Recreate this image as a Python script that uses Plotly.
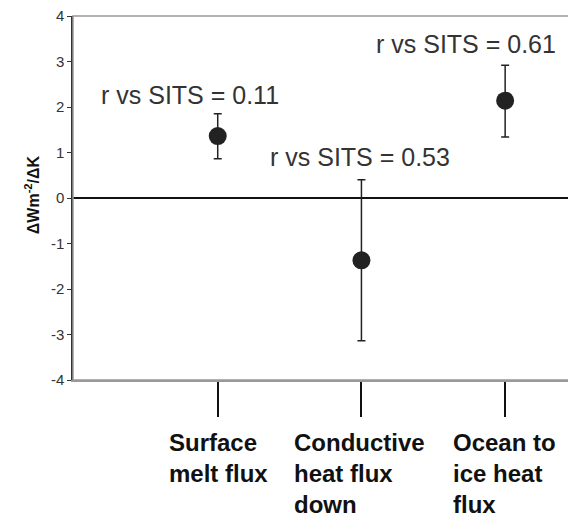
import plotly.graph_objects as go

categories = ["Surface<br>melt flux", "Conductive<br>heat flux<br>down", "Ocean to<br>ice heat<br>flux"]
x_pos = [0, 1, 2]
values = [1.36, -1.37, 2.14]
err_plus = [0.49, 1.77, 0.78]
err_minus = [0.50, 1.77, 0.80]
r_labels = ["r vs SITS = 0.11", "r vs SITS = 0.53", "r vs SITS = 0.61"]
r_label_y = [2.27, 0.9, 3.38]
r_label_x = [-0.19, 0.99, 1.73]
y_ticks = [-4, -3, -2, -1, 0, 1, 2, 3, 4]
y_ticktext = ["-4", "-3", "-2", "-1", "0", "1", "2", "3", "4"]

FONT = "Arial, Liberation Sans, sans-serif"

fig = go.Figure()
fig.add_trace(go.Scatter(
    x=x_pos, y=values, mode="markers",
    marker=dict(size=18, color="#222222"),
    error_y=dict(type="data", symmetric=False, array=err_plus, arrayminus=err_minus,
                 color="#222222", thickness=1.5, width=4),
    showlegend=False,
))

for lx, ly, t in zip(r_label_x, r_label_y, r_labels):
    fig.add_annotation(x=lx, y=ly, xref="x", yref="y", text=t, showarrow=False,
                       font=dict(family=FONT, size=25, color="#333333"))

label_x_off = [-0.354, -0.486, -0.375]
for xp, off, c in zip(x_pos, label_x_off, categories):
    fig.add_annotation(x=xp + off, y=-0.13, xref="x", yref="paper", text="<b>" + c + "</b>",
                       showarrow=False, xanchor="left", yanchor="top", align="left",
                       font=dict(family=FONT, size=24, color="#111111"))

fig.add_annotation(x=-0.08, y=0.51, xref="paper", yref="paper",
                   xanchor="center", yanchor="middle",
                   text="<b>ΔWm<sup>-2</sup>/ΔK</b>", textangle=-90, showarrow=False,
                   font=dict(family=FONT, size=16, color="#111111"))

fig.add_shape(type="rect", xref="paper", yref="paper", x0=0, y0=0, x1=1, y1=1,
              line=dict(color="#999999", width=1.5))

fig.update_layout(
    width=576, height=521,
    margin=dict(l=65, r=9, t=8, b=149),
    plot_bgcolor="white", paper_bgcolor="white",
    xaxis=dict(range=[-1.007, 2.486], tickvals=x_pos, showticklabels=False,
               ticks="outside", ticklen=35, tickwidth=1.5, tickcolor="#111111",
               showgrid=False, zeroline=False, showline=True, linecolor="#999999", linewidth=1.5,
               automargin=False),
    yaxis=dict(range=[-4, 4], tickvals=y_ticks, ticktext=y_ticktext, ticks="outside", ticklen=4,
               tickcolor="#333333", showgrid=False, zeroline=True, zerolinecolor="#111111",
               zerolinewidth=1.5, showline=True, linecolor="#333333", linewidth=1.5,
               ticklabeloverflow="allow", automargin=False,
               tickfont=dict(family=FONT, size=15, color="#333333")),
)

fig.write_html("out.html")
